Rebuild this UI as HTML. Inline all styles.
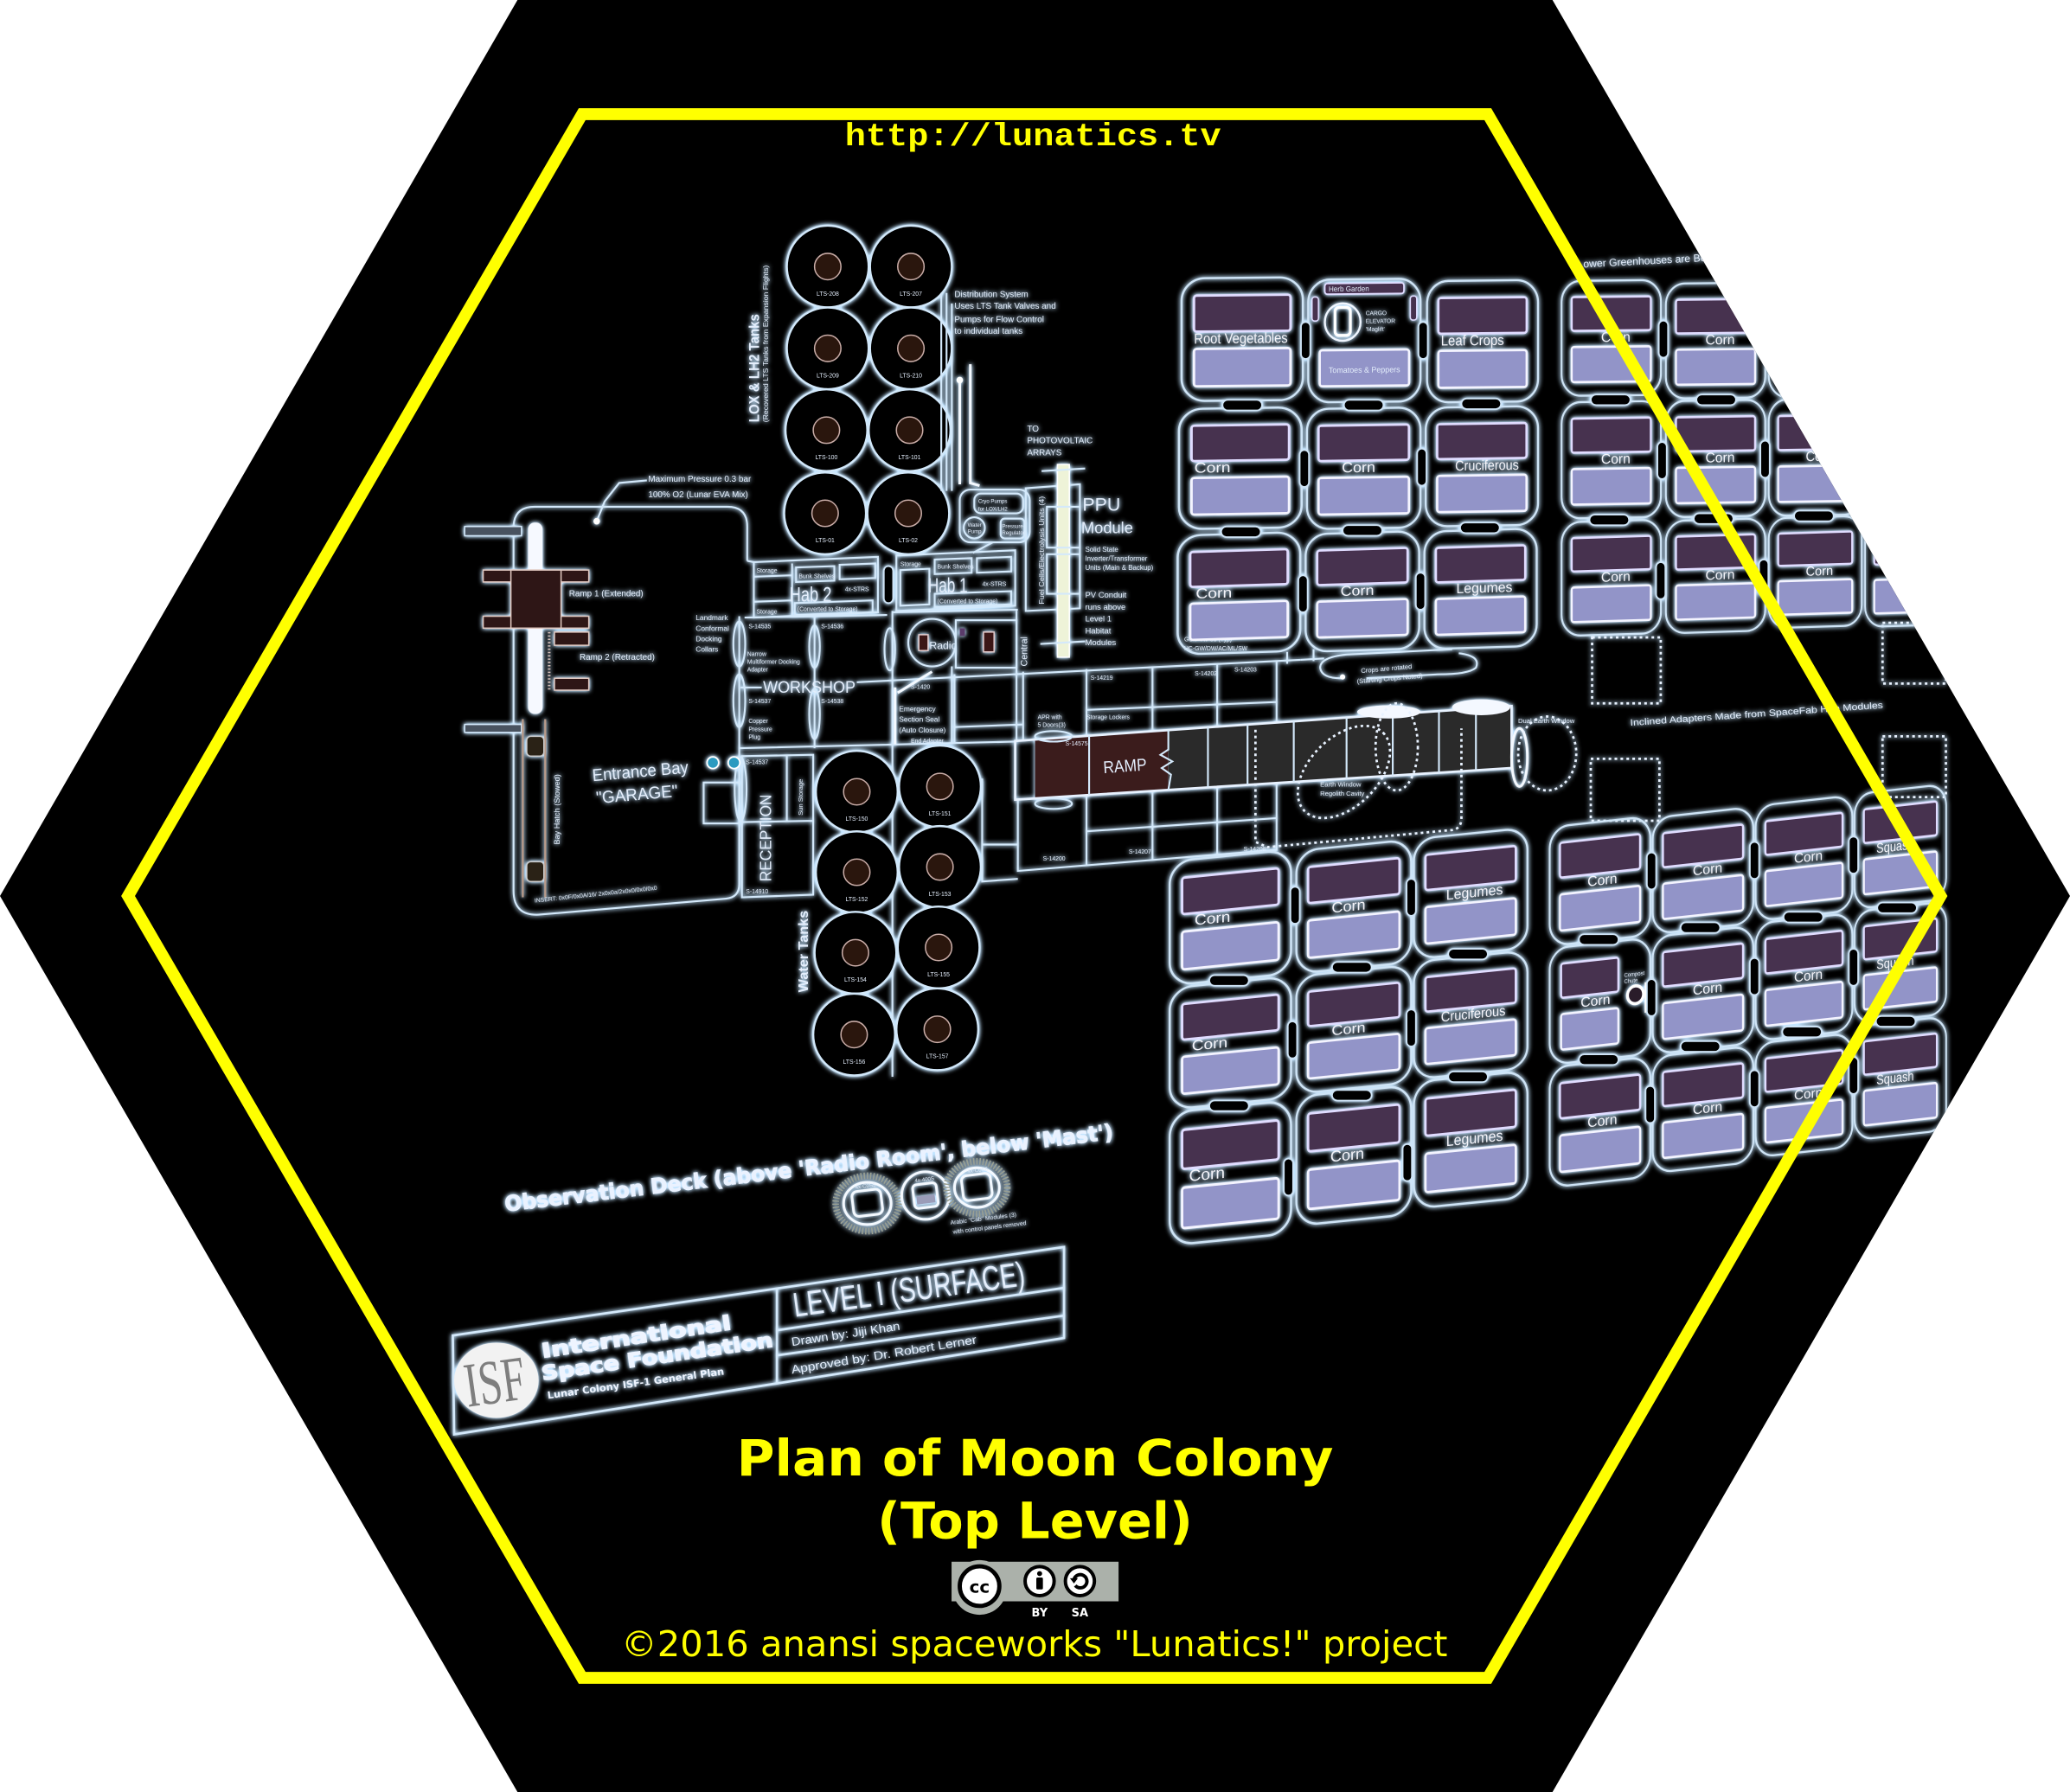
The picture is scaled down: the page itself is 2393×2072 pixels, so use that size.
<!DOCTYPE html>
<html><head><meta charset="utf-8"><title>Plan of Moon Colony</title>
<style>
html,body{margin:0;padding:0;background:#fff;width:2393px;height:2072px;overflow:hidden}
svg{display:block}
.s{fill:none;stroke:#d4e9fb;stroke-width:1.4}
.w{fill:none;stroke:#f4f9ff;stroke-width:2}
.d{fill:none;stroke:#e8f2ff;stroke-width:1.8;stroke-dasharray:2 2.5}
.t{fill:#e4eefc;font-family:"Liberation Sans",sans-serif}
.n{fill:#f4f4fa;font-family:"Liberation Sans Narrow","Liberation Sans",sans-serif;font-size:11px}
</style></head><body>
<svg width="2393" height="2072" viewBox="0 0 1568 1358" preserveAspectRatio="none" xmlns="http://www.w3.org/2000/svg">
<defs>
 <clipPath id="hc"><polygon points="0,679 392,0 1176,0 1568,679 1176,1358 392,1358"/></clipPath>
 <filter id="glow" filterUnits="userSpaceOnUse" x="0" y="0" width="1568" height="1358">
  <feGaussianBlur in="SourceGraphic" stdDeviation="1.8" result="b"/>
  <feColorMatrix in="b" type="matrix" values="0 0 0 0 0.55  0 0 0 0 0.78  0 0 0 0 1  0 0 0 1.6 0" result="c"/>
  <feMerge><feMergeNode in="c"/><feMergeNode in="SourceGraphic"/></feMerge>
 </filter>
 <g id="m">
  <rect x="1" y="1" width="88" height="92" rx="17" fill="none" stroke="#cfe4f6" stroke-width="1.6"/>
  <rect x="10" y="14" width="70" height="27" rx="2" fill="#46324f" stroke="#e0dcff" stroke-width="1.8"/>
  <rect x="10" y="54" width="70" height="28" rx="2" fill="#9294c8" stroke="#f4f4ff" stroke-width="1.8"/>
 </g>
 <g id="mc">
  <rect x="1" y="1" width="88" height="92" rx="17" fill="none" stroke="#cfe4f6" stroke-width="1.6"/>
  <rect x="11" y="14" width="50" height="27" rx="2" fill="#46324f" stroke="#e0dcff" stroke-width="1.8"/>
  <rect x="11" y="54" width="50" height="28" rx="2" fill="#9294c8" stroke="#f4f4ff" stroke-width="1.8"/>
  <circle cx="76" cy="45" r="7" fill="#2a1a2a" stroke="#fff" stroke-width="2.5"/>
  <rect x="84" y="36" width="3" height="24" fill="#fff"/>
 </g>
 <g id="mh">
  <rect x="1" y="1" width="88" height="92" rx="17" fill="none" stroke="#cfe4f6" stroke-width="1.6"/>
  <rect x="14" y="4" width="62" height="8" rx="2" fill="#46324f" stroke="#e0dcff" stroke-width="1.2"/>
  <rect x="4" y="14" width="5" height="18" rx="2" fill="#46324f" stroke="#e0dcff" stroke-width="1"/>
  <rect x="81" y="14" width="5" height="18" rx="2" fill="#46324f" stroke="#e0dcff" stroke-width="1"/>
  <circle cx="28" cy="33" r="14" fill="none" stroke="#f0f6ff" stroke-width="1.6"/>
  <rect x="22" y="22" width="12" height="21" rx="3" fill="none" stroke="#fff" stroke-width="2.2"/>
  <rect x="10" y="54" width="70" height="27" rx="2" fill="#9294c8" stroke="#f4f4ff" stroke-width="1.8"/>
 </g>
 <rect id="ph" x="-15" y="-4" width="30" height="8" rx="4" fill="#000" stroke="#cfe4f6" stroke-width="1.2"/>
 <rect id="pv" x="-3.5" y="-14" width="7" height="28" rx="3.5" fill="#000" stroke="#cfe4f6" stroke-width="1.2"/>
 <g id="tk"><circle r="31" fill="#000" stroke="#d2e8fa" stroke-width="1.6"/><circle r="10" fill="#2c1210" stroke="#c8aca6" stroke-width="1"/></g>
</defs>

<polygon points="0,679 392,0 1176,0 1568,679 1176,1358 392,1358" fill="#000"/>

<g clip-path="url(#hc)">
<g filter="url(#glow)">

<!-- LOX tanks -->
<use href="#tk" x="627" y="202"/><use href="#tk" x="690" y="202"/>
<use href="#tk" x="627" y="264"/><use href="#tk" x="690" y="264"/>
<use href="#tk" x="626" y="326"/><use href="#tk" x="689" y="326"/>
<use href="#tk" x="625" y="389"/><use href="#tk" x="688" y="389"/>
<g class="t" font-size="4.5" text-anchor="middle">
<text x="627" y="224">LTS-208</text><text x="690" y="224">LTS-207</text>
<text x="627" y="286">LTS-209</text><text x="690" y="286">LTS-210</text>
<text x="626" y="348">LTS-100</text><text x="689" y="348">LTS-101</text>
<text x="625" y="411">LTS-01</text><text x="688" y="411">LTS-02</text>
</g>
<text class="t" transform="translate(575,320) rotate(-90)" font-size="11" font-weight="bold" textLength="82" lengthAdjust="spacingAndGlyphs">LOX &amp; LH2 Tanks</text>
<text class="t" transform="translate(582,320) rotate(-90)" font-size="5.5" textLength="119" lengthAdjust="spacingAndGlyphs">(Recovered LTS Tanks from Expansion Flights)</text>
<path class="s" d="M713,222 L713,372 M717,222 L717,372 M721,230 L721,372" stroke-width="1"/>
<path class="w" d="M727,288 L727,367 M735,276 L735,366 L742,368"/>
<circle cx="727" cy="288" r="2.5" fill="#fff"/>
<g class="t" font-size="6.5">
<text x="723" y="225">Distribution System</text>
<text x="723" y="234">Uses LTS Tank Valves and</text>
<text x="723" y="244">Pumps for Flow Control</text>
<text x="723" y="253">to individual tanks</text>
<text x="778" y="327">TO</text>
<text x="778" y="336">PHOTOVOLTAIC</text>
<text x="778" y="345">ARRAYS</text>
</g>

<!-- Cryo / fuel / PPU -->
<rect class="s" x="727" y="371" width="53" height="40" rx="8"/>
<rect class="s" x="738" y="374" width="37" height="15" rx="5" stroke-width="1"/>
<circle class="s" cx="738" cy="400" r="8" stroke-width="1"/>
<rect class="s" x="758" y="393" width="18" height="15" rx="3" stroke-width="1"/>
<g class="t" font-size="4"><text x="741" y="381">Cryo Pumps</text><text x="741" y="387">for LOX/LH2</text><text x="733" y="399">Water</text><text x="733" y="404">Pump</text><text x="759" y="400">Pressure</text><text x="759" y="405">Regulator</text></g>
<polygon class="s" points="777,370 818,367 818,461 777,463"/>
<text class="t" transform="translate(791,458) rotate(-90)" font-size="5.5" textLength="82" lengthAdjust="spacingAndGlyphs">Fuel Cells/Electrolysis Units (4)</text>
<rect x="801" y="352" width="9" height="146" fill="#eef3d8" stroke="#fff" stroke-width="1"/>
<path class="s" d="M789,357 L822,355 M788,488 L822,486 M793,384 L818,384 L818,415 L793,415 Z M793,420 L818,420 L818,450 L793,450 Z" stroke-width="1"/>
<text class="t" x="820" y="387" font-size="14">PPU</text>
<text class="t" x="819" y="404" font-size="12">Module</text>
<g class="t" font-size="5.2">
<text x="822" y="418">Solid State</text><text x="822" y="425">Inverter/Transformer</text><text x="822" y="432">Units (Main &amp; Backup)</text>
</g>
<g class="t" font-size="6.2">
<text x="822" y="453">PV Conduit</text><text x="822" y="462">runs above</text><text x="822" y="471">Level 1</text><text x="822" y="480">Habitat</text><text x="822" y="489">Modules</text>
</g>

<!-- Hab rooms -->
<polygon class="s" points="571,426 665,422 665,464 571,468" stroke-width="1.6"/>
<path class="s" d="M600,427 L600,467 M571,437 L600,436 M571,456 L600,455 M603,430 L632,429 L632,440 L603,441 Z M636,428 L663,427 L663,438 L636,439 Z M602,457 L661,455 L661,464 L602,466 Z" stroke-width="1"/>
<text class="t" x="598" y="456" font-size="16" textLength="32" lengthAdjust="spacingAndGlyphs">Hab 2</text>
<g class="t" font-size="4.5"><text x="573" y="434">Storage</text><text x="605" y="438">Bunk Shelves</text><text x="604" y="463">(Converted to Storage)</text><text x="573" y="465">Storage</text><text x="640" y="448">4x-STRS</text></g>
<polygon class="s" points="679,421 769,417 769,459 679,463" stroke-width="1.6"/>
<path class="s" d="M708,424 L736,423 L736,434 L708,435 Z M740,423 L766,422 L766,433 L740,434 Z M708,450 L766,448 L766,458 L708,460 Z M682,432 L704,431 L704,458 L682,459 Z" stroke-width="1"/>
<text class="t" x="703" y="449" font-size="16" textLength="30" lengthAdjust="spacingAndGlyphs">Hab 1</text>
<g class="t" font-size="4.5"><text x="682" y="429">Storage</text><text x="710" y="431">Bunk Shelves</text><text x="710" y="457">(Converted to Storage)</text><text x="744" y="444">4x-STRS</text></g>
<use href="#pv" x="673" y="443"/>
<path class="s" d="M752,411 L737,419 M566,425 L571,426"/>

<!-- Radio / central -->
<circle class="s" cx="706" cy="487" r="18" stroke-width="1.6"/>
<rect x="696" y="481" width="7" height="12" fill="#3a1418" stroke="#e0c8c8" stroke-width="1"/>
<text class="t" x="704" y="492" font-size="8">Radio</text>
<rect class="s" x="724" y="470" width="46" height="36"/>
<rect x="745" y="479" width="8" height="15" fill="#3a1418" stroke="#e0c8c8" stroke-width="1"/>
<rect x="727" y="476" width="4" height="6" fill="#5a3a6a"/>
<text class="t" transform="translate(778,505) rotate(-90)" font-size="7">Central</text>

<!-- Garage -->
<path class="s" d="M566,425 L566,399 Q566,384 551,384 L405,384 Q389,384 389,400 L389,675 Q389,695 410,693 L550,681 Q560,680 560,670 L560,467" stroke-width="1.8"/>
<rect x="352" y="399" width="43" height="7" fill="#4a5260" stroke="#d4e9fb" stroke-width="1"/>
<rect x="352" y="549" width="43" height="6" fill="#4a5260" stroke="#d4e9fb" stroke-width="1"/>
<rect x="400" y="396" width="11" height="145" rx="5" fill="#f6f9ff"/>
<path d="M396,545 L396,680 M413,545 L413,680" stroke="#b89a88" stroke-width="1.5"/>
<rect x="399" y="558" width="13" height="15" rx="3" fill="#2a2418" stroke="#ccc" stroke-width="1"/>
<rect x="399" y="653" width="13" height="15" rx="3" fill="#2a2418" stroke="#ccc" stroke-width="1"/>
<g fill="#2e1212" stroke="#e0c8c0" stroke-width="1">
<rect x="366" y="432" width="80" height="9"/><rect x="366" y="467" width="80" height="9"/>
<rect x="420" y="479" width="26" height="10"/><rect x="420" y="514" width="26" height="9"/>
<rect x="387" y="432" width="38" height="44"/>
</g>
<path d="M416,479 L416,523" stroke="#d8c0b8" stroke-width="2" stroke-dasharray="1 1.5"/>
<g class="t" font-size="6.5">
<text x="431" y="452">Ramp 1 (Extended)</text>
<text x="439" y="500">Ramp 2 (Retracted)</text>
<text x="491" y="365">Maximum Pressure 0.3 bar</text>
<text x="491" y="377">100% O2 (Lunar EVA Mix)</text>
</g>
<path class="s" d="M452,395 L458,380 L469,366 L490,364"/>
<circle cx="452" cy="395" r="2.5" fill="#fff"/>
<text class="t" transform="rotate(-5 449 592)" x="449" y="592" font-size="13" textLength="73" lengthAdjust="spacingAndGlyphs">Entrance Bay</text>
<text class="t" transform="rotate(-5 452 609)" x="452" y="609" font-size="13" textLength="62" lengthAdjust="spacingAndGlyphs">&quot;GARAGE&quot;</text>
<text class="t" transform="translate(424,640) rotate(-90)" font-size="6">Bay Hatch (Stowed)</text>
<text class="t" transform="rotate(-6 405 684)" x="405" y="684" font-size="4.5">INSERT: 0x0F/0x0A/16/ 2x0x0a/2x0x0/0x0/0x0</text>
<g class="t" font-size="5.5"><text x="527" y="470">Landmark</text><text x="527" y="478">Conformal</text><text x="527" y="486">Docking</text><text x="527" y="494">Collars</text></g>

<!-- Workshop / corridor left -->
<path class="s" d="M564,468 L672,466 M676,464 L771,462 M561,521 L577,521 M649,517 L985,500 M560,567 L769,562 M617,467 L617,567 M676,463 L676,816 M721,505 L721,564 M770,462 L770,562 M723,511 L723,563 M723,551 L775,549"/>
<text class="t" x="578" y="525" font-size="12.5" textLength="70" lengthAdjust="spacingAndGlyphs">WORKSHOP</text>
<g class="s" stroke-width="1.2">
<ellipse cx="560" cy="488" rx="4.5" ry="17"/><ellipse cx="560" cy="531" rx="4.5" ry="20"/><ellipse cx="561" cy="598" rx="4.5" ry="24"/>
<ellipse cx="617" cy="490" rx="4" ry="16"/><ellipse cx="617" cy="541" rx="4" ry="19"/><ellipse cx="674" cy="492" rx="4" ry="16"/>
</g>
<path class="w" d="M680,525 L706,509 M678,521 L678,564" stroke-width="2.2"/>
<g class="t" font-size="4.5">
<text x="567" y="476">S-14535</text><text x="622" y="476">S-14536</text>
<text x="566" y="497">Narrow</text><text x="566" y="503">Multiformer Docking</text><text x="566" y="509">Adapter</text>
<text x="567" y="533">S-14537</text><text x="622" y="533">S-14538</text>
<text x="567" y="548">Copper</text><text x="567" y="554">Pressure</text><text x="567" y="560">Plug</text>
<text x="565" y="579">S-14537</text><text x="565" y="677">S-14910</text>
<text x="690" y="522">S-1420</text><text x="690" y="563">End Adapter</text>
</g>
<g class="t" font-size="5.5"><text x="681" y="539">Emergency</text><text x="681" y="547">Section Seal</text><text x="681" y="555">(Auto Closure)</text></g>

<!-- Reception -->
<path class="s" d="M562,573 L616,572 L616,678 L562,680 Z M596,573 L596,623 M562,623 L616,622"/>
<text class="t" transform="translate(584,668) rotate(-90)" font-size="12" textLength="66" lengthAdjust="spacingAndGlyphs">RECEPTION</text>
<text class="t" transform="translate(608,618) rotate(-90)" font-size="5">Sun Storage</text>
<rect class="s" x="533" y="593" width="27" height="31"/>
<circle cx="540" cy="578" r="4.4" fill="#2a9ac0" stroke="#fff" stroke-width="1.2"/>
<circle cx="556" cy="578" r="4.4" fill="#2a9ac0" stroke="#fff" stroke-width="1.2"/>

<!-- Water tanks -->
<use href="#tk" x="649" y="600"/><use href="#tk" x="712" y="596"/>
<use href="#tk" x="649" y="661"/><use href="#tk" x="712" y="657"/>
<use href="#tk" x="648" y="722"/><use href="#tk" x="711" y="718"/>
<use href="#tk" x="647" y="784"/><use href="#tk" x="710" y="780"/>
<g class="t" font-size="4.5" text-anchor="middle">
<text x="649" y="622">LTS-150</text><text x="712" y="618">LTS-151</text>
<text x="649" y="683">LTS-152</text><text x="712" y="679">LTS-153</text>
<text x="648" y="744">LTS-154</text><text x="711" y="740">LTS-155</text>
<text x="647" y="806">LTS-156</text><text x="710" y="802">LTS-157</text>
</g>
<text class="t" transform="translate(612,752) rotate(-90)" font-size="10" font-weight="bold" textLength="62" lengthAdjust="spacingAndGlyphs">Water Tanks</text>

<!-- Central corridor -->
<path class="s" d="M775,509 L775,561 M823,507 L823,558 M873,505 L873,554 M922,503 L922,551 M967,501 L967,548 M823,538 L967,532
M771,606 L771,660 L967,644 L967,593 M823,603 L823,656 M873,599 L873,652 M922,596 L922,648 M823,630 L967,620 M744,640 L771,640 M744,590 L744,668 L771,666"/>
<polygon points="784,560.4 885,553.3 885,598.6 784,605" fill="#3a1a1e"/>
<polygon points="885,553.3 1145,535 1145,582 885,598.6" fill="#2c2c2c"/>
<polygon points="769,561.5 1145,535 1145,582 769,606" fill="none" stroke="#e8f2ff" stroke-width="1.8"/>
<path class="s" d="M825,557.6 L825,602.4 M915,551.2 L915,596.7 M945,549.1 L945,594.8 M980,546.6 L980,592.5 M1020,543.8 L1020,590 M1055,541.3 L1055,587.8 M1090,538.9 L1090,585.5 M1118,536.9 L1118,583.7 M885,553.3 L885,568 L879,572 L888,577 L880,582 L887,587 L885,598.6"/>
<text class="t" transform="rotate(-4 836 586)" x="836" y="586" font-size="13" fill="#ddd" textLength="33" lengthAdjust="spacingAndGlyphs">RAMP</text>
<ellipse class="s" cx="798" cy="558" rx="14" ry="4"/><ellipse class="s" cx="798" cy="609" rx="14" ry="4"/>
<g class="t" font-size="4.5"><text x="786" y="545">APR with</text><text x="786" y="551">5 Doors(3)</text><text x="823" y="545">Storage Lockers</text><text x="826" y="515">S-14219</text><text x="905" y="512">S-14202</text><text x="935" y="509">S-14203</text><text x="807" y="565">S-14575</text><text x="790" y="652">S-14200</text><text x="855" y="647">S-14207</text><text x="942" y="645">S-14208</text></g>
<ellipse cx="1052" cy="539.5" rx="24" ry="5" fill="#f4f8ff"/>
<ellipse cx="1122" cy="536" rx="22" ry="6" fill="#f4f8ff"/>
<ellipse class="w" cx="1151" cy="574" rx="6" ry="22"/>
<ellipse class="d" cx="1172" cy="571" rx="22" ry="28"/>
<ellipse class="d" cx="1018" cy="585" rx="42" ry="26" transform="rotate(-45 1018 585)"/>
<ellipse class="d" cx="1058" cy="566" rx="16" ry="33"/>
<path class="d" d="M951,553 L951,638 L960,642 L1100,629 Q1107,628 1107,620 L1107,552"/>
<g class="t" font-size="5"><text x="1000" y="596">Earth Window</text><text x="1000" y="603">Regolith Cavity</text><text x="1150" y="548">Dual Earth Window</text></g>
<path class="s" d="M985,500 L1003,499 M975,494 L975,503 M995,492 L995,501"/>
<path class="s" d="M1105,495 Q1122,497 1118,506 Q1112,511 1090,511 L1035,514 M1020,496 Q1000,498 1000,506 Q1001,514 1016,514 M1020,496 L1100,492"/>
<circle cx="1017" cy="513" r="2" fill="#fff"/>
<g class="t" font-size="5"><text transform="rotate(-5 1031 510)" x="1031" y="510">Crops are rotated</text><text transform="rotate(-5 1028 518)" x="1028" y="518">(Starting Crops Noted)</text></g>
<g class="t" font-size="4.5"><text x="897" y="486">GC-P-AV-03 (Typ)</text><text x="897" y="493">HC-GW/DW/AC/ML/SW</text></g>

<!-- Dashed adapter boxes -->
<rect class="d" x="1206" y="483" width="52" height="50" stroke-width="1.3"/>
<rect class="d" x="1426" y="472" width="48" height="46" stroke-width="1.3"/>
<rect class="d" x="1205" y="575" width="52" height="47" stroke-width="1.3"/>
<rect class="d" x="1426" y="558" width="48" height="46" stroke-width="1.3"/>
<text class="t" transform="rotate(-4 1235 550)" x="1235" y="550" font-size="7" textLength="192" lengthAdjust="spacingAndGlyphs">Inclined Adapters Made from SpaceFab Hab Modules</text>
<text class="t" transform="rotate(-3 1195 203)" x="1195" y="203" font-size="8">Lower Greenhouses are Below (Level 2)</text>

<!-- Greenhouses top-left -->
<g transform="matrix(1.0444,-0.0104,0,1.0106,894,210)"><use href="#m"/><text class="n" x="10" y="50" textLength="68" lengthAdjust="spacingAndGlyphs">Root Vegetables</text></g>
<g transform="matrix(0.9667,-0.0097,0,1.0106,990,211)"><use href="#mh"/>
 <text class="t" x="17" y="10" font-size="5.5">Herb Garden</text>
 <text class="t" x="46" y="28" font-size="4.5">CARGO</text><text class="t" x="46" y="34" font-size="4.5">ELEVATOR</text><text class="t" x="46" y="40" font-size="4.5">'Maglift'</text>
 <text class="t" x="17" y="71" font-size="6" textLength="56" lengthAdjust="spacingAndGlyphs">Tomatoes &amp; Peppers</text></g>
<g transform="matrix(0.9556,-0.0096,0,1,1080,212)"><use href="#m"/><text class="n" x="12" y="50" textLength="50" lengthAdjust="spacingAndGlyphs">Leaf Crops</text></g>
<g transform="matrix(1.0556,-0.0158,0,0.9894,892,309)"><use href="#m"/><text class="n" x="12" y="50" textLength="26" lengthAdjust="spacingAndGlyphs">Corn</text></g>
<g transform="matrix(0.9778,-0.0147,0,0.9894,989,309)"><use href="#m"/><text class="n" x="28" y="50" textLength="26" lengthAdjust="spacingAndGlyphs">Corn</text></g>
<g transform="matrix(0.9667,-0.0145,0,0.9787,1079,308)"><use href="#m"/><text class="n" x="24" y="50" textLength="50" lengthAdjust="spacingAndGlyphs">Cruciferous</text></g>
<g transform="matrix(1.0556,-0.0317,0,0.9787,891,405)"><use href="#m"/><text class="n" x="14" y="50" textLength="26" lengthAdjust="spacingAndGlyphs">Corn</text></g>
<g transform="matrix(0.9778,-0.0293,0,0.9681,988,404)"><use href="#m"/><text class="n" x="28" y="50" textLength="26" lengthAdjust="spacingAndGlyphs">Corn</text></g>
<g transform="matrix(0.9667,-0.029,0,0.9681,1078,402)"><use href="#m"/><text class="n" x="26" y="50" textLength="44" lengthAdjust="spacingAndGlyphs">Legumes</text></g>

<!-- Greenhouses top-right -->
<g transform="matrix(0.8556,-0.0086,0,0.9468,1182,212)"><use href="#m"/><text class="n" x="36" y="50" textLength="26" lengthAdjust="spacingAndGlyphs">Corn</text></g>
<g transform="matrix(0.8556,-0.0086,0,0.9468,1261,214)"><use href="#m"/><text class="n" x="36" y="50" textLength="26" lengthAdjust="spacingAndGlyphs">Corn</text></g>
<g transform="matrix(0.8,-0.008,0,0.9468,1339,213)"><use href="#m"/><text class="n" x="36" y="50" textLength="26" lengthAdjust="spacingAndGlyphs">Corn</text></g>
<g transform="matrix(0.7778,-0.0078,0,0.9468,1412,213)"><use href="#m"/><text class="n" x="36" y="50" textLength="26" lengthAdjust="spacingAndGlyphs">Corn</text></g>
<g transform="matrix(0.8556,-0.0128,0,0.9574,1182,304)"><use href="#m"/><text class="n" x="36" y="50" textLength="26" lengthAdjust="spacingAndGlyphs">Corn</text></g>
<g transform="matrix(0.8556,-0.0128,0,0.9574,1261,303)"><use href="#m"/><text class="n" x="36" y="50" textLength="26" lengthAdjust="spacingAndGlyphs">Corn</text></g>
<g transform="matrix(0.8,-0.012,0,0.9574,1339,302)"><use href="#m"/><text class="n" x="36" y="50" textLength="26" lengthAdjust="spacingAndGlyphs">Corn</text></g>
<g transform="matrix(0.7778,-0.0117,0,0.9574,1412,302)"><use href="#m"/><text class="n" x="36" y="50" textLength="26" lengthAdjust="spacingAndGlyphs">Corn</text></g>
<g transform="matrix(0.8556,-0.0257,0,0.9362,1182,395)"><use href="#m"/><text class="n" x="36" y="50" textLength="26" lengthAdjust="spacingAndGlyphs">Corn</text></g>
<g transform="matrix(0.8556,-0.0257,0,0.9255,1261,394)"><use href="#m"/><text class="n" x="36" y="50" textLength="26" lengthAdjust="spacingAndGlyphs">Corn</text></g>
<g transform="matrix(0.8,-0.024,0,0.9043,1339,392)"><use href="#m"/><text class="n" x="36" y="50" textLength="26" lengthAdjust="spacingAndGlyphs">Corn</text></g>
<g transform="matrix(0.7778,-0.0233,0,0.9043,1412,391)"><use href="#m"/><text class="n" x="36" y="50" textLength="26" lengthAdjust="spacingAndGlyphs">Corn</text></g>

<!-- Greenhouses bottom-left -->
<g transform="matrix(1.0444,-0.1044,0,1.0213,885,652)"><use href="#m"/><text class="n" x="19" y="50" textLength="26" lengthAdjust="spacingAndGlyphs">Corn</text></g>
<g transform="matrix(0.9889,-0.0989,0,1.0106,981,644)"><use href="#m"/><text class="n" x="28" y="50" textLength="26" lengthAdjust="spacingAndGlyphs">Corn</text></g>
<g transform="matrix(0.9778,-0.0978,0,0.9894,1070,635)"><use href="#m"/><text class="n" x="26" y="50" textLength="44" lengthAdjust="spacingAndGlyphs">Legumes</text></g>
<g transform="matrix(1.0444,-0.1044,0,1.0,885,748)"><use href="#m"/><text class="n" x="17" y="50" textLength="26" lengthAdjust="spacingAndGlyphs">Corn</text></g>
<g transform="matrix(0.9889,-0.0989,0,0.9681,981,739)"><use href="#m"/><text class="n" x="28" y="50" textLength="26" lengthAdjust="spacingAndGlyphs">Corn</text></g>
<g transform="matrix(0.9778,-0.0978,0,0.9681,1070,728)"><use href="#m"/><text class="n" x="22" y="50" textLength="50" lengthAdjust="spacingAndGlyphs">Cruciferous</text></g>
<g transform="matrix(1.0444,-0.1044,0,1.0957,885,842)"><use href="#m"/><text class="n" x="15" y="50" textLength="26" lengthAdjust="spacingAndGlyphs">Corn</text></g>
<g transform="matrix(0.9889,-0.0989,0,1.0638,981,830)"><use href="#m"/><text class="n" x="27" y="50" textLength="26" lengthAdjust="spacingAndGlyphs">Corn</text></g>
<g transform="matrix(0.9778,-0.0978,0,1.0426,1070,819)"><use href="#m"/><text class="n" x="26" y="50" textLength="44" lengthAdjust="spacingAndGlyphs">Legumes</text></g>

<!-- Greenhouses bottom-right -->
<g transform="matrix(0.8667,-0.0953,0,0.9787,1173,626)"><use href="#m"/><text class="n" x="34" y="50" textLength="26" lengthAdjust="spacingAndGlyphs">Corn</text></g>
<g transform="matrix(0.8667,-0.0953,0,0.9574,1251,619)"><use href="#m"/><text class="n" x="36" y="50" textLength="26" lengthAdjust="spacingAndGlyphs">Corn</text></g>
<g transform="matrix(0.8333,-0.0917,0,0.9468,1329,610)"><use href="#m"/><text class="n" x="36" y="50" textLength="26" lengthAdjust="spacingAndGlyphs">Corn</text></g>
<g transform="matrix(0.7889,-0.0868,0,0.9468,1404,601)"><use href="#m"/><text class="n" x="22" y="50" textLength="36" lengthAdjust="spacingAndGlyphs">Squash</text></g>
<g transform="matrix(0.8667,-0.0953,0,0.9574,1173,718)"><use href="#mc"/><text class="n" x="28" y="50" textLength="26" lengthAdjust="spacingAndGlyphs">Corn</text><text class="t" x="66" y="30" font-size="4.5">Compost</text><text class="t" x="66" y="35" font-size="4.5">Chute</text></g>
<g transform="matrix(0.8667,-0.0953,0,0.9681,1251,709)"><use href="#m"/><text class="n" x="36" y="50" textLength="26" lengthAdjust="spacingAndGlyphs">Corn</text></g>
<g transform="matrix(0.8333,-0.0917,0,0.9681,1329,699)"><use href="#m"/><text class="n" x="36" y="50" textLength="26" lengthAdjust="spacingAndGlyphs">Corn</text></g>
<g transform="matrix(0.7889,-0.0868,0,0.9255,1404,690)"><use href="#m"/><text class="n" x="22" y="50" textLength="36" lengthAdjust="spacingAndGlyphs">Squash</text></g>
<g transform="matrix(0.8667,-0.0953,0,0.9894,1173,808)"><use href="#m"/><text class="n" x="34" y="50" textLength="26" lengthAdjust="spacingAndGlyphs">Corn</text></g>
<g transform="matrix(0.8667,-0.0953,0,0.9574,1251,800)"><use href="#m"/><text class="n" x="36" y="50" textLength="26" lengthAdjust="spacingAndGlyphs">Corn</text></g>
<g transform="matrix(0.8333,-0.0917,0,0.9362,1329,790)"><use href="#m"/><text class="n" x="36" y="50" textLength="26" lengthAdjust="spacingAndGlyphs">Corn</text></g>
<g transform="matrix(0.7889,-0.0868,0,0.9362,1404,777)"><use href="#m"/><text class="n" x="22" y="50" textLength="36" lengthAdjust="spacingAndGlyphs">Squash</text></g>

<!-- MCD2 pills -->
<use href="#ph" x="941" y="307"/><use href="#ph" x="1033" y="307"/><use href="#ph" x="1122" y="306"/>
<use href="#ph" x="940" y="403"/><use href="#ph" x="1032" y="402"/><use href="#ph" x="1121" y="400"/>
<use href="#pv" x="989" y="258"/><use href="#pv" x="988" y="355"/><use href="#pv" x="987" y="450"/>
<use href="#pv" x="1078" y="258"/><use href="#pv" x="1077" y="354"/><use href="#pv" x="1076" y="448"/>
<use href="#ph" x="1220" y="303"/><use href="#ph" x="1300" y="303"/><use href="#ph" x="1375" y="301"/>
<use href="#ph" x="1219" y="394"/><use href="#ph" x="1298" y="393"/><use href="#ph" x="1374" y="391"/>
<use href="#pv" x="1260" y="257"/><use href="#pv" x="1259" y="349"/><use href="#pv" x="1258" y="440"/>
<use href="#pv" x="1338" y="257"/><use href="#pv" x="1337" y="348"/><use href="#pv" x="1336" y="438"/>
<use href="#ph" x="931" y="743"/><use href="#ph" x="1024" y="733"/><use href="#ph" x="1112" y="723"/>
<use href="#ph" x="931" y="838"/><use href="#ph" x="1024" y="830"/><use href="#ph" x="1112" y="816"/>
<use href="#pv" x="981" y="686"/><use href="#pv" x="979" y="788"/><use href="#pv" x="976" y="892"/>
<use href="#pv" x="1069" y="680"/><use href="#pv" x="1069" y="779"/><use href="#pv" x="1066" y="881"/>
<use href="#ph" x="1211" y="712"/><use href="#ph" x="1288" y="703"/><use href="#ph" x="1366" y="695"/><use href="#ph" x="1437" y="688"/>
<use href="#ph" x="1211" y="803"/><use href="#ph" x="1288" y="793"/><use href="#ph" x="1365" y="782"/><use href="#ph" x="1436" y="774"/>
<use href="#pv" x="1251" y="660"/><use href="#pv" x="1251" y="756"/><use href="#pv" x="1250" y="837"/>
<use href="#pv" x="1329" y="652"/><use href="#pv" x="1329" y="740"/><use href="#pv" x="1329" y="825"/>
<use href="#pv" x="1404" y="648"/><use href="#pv" x="1404" y="733"/><use href="#pv" x="1404" y="815"/>

<!-- Observation deck -->
<text transform="rotate(-6.8 383 918)" x="383" y="918" font-family="DejaVu Sans,sans-serif" font-weight="bold" font-size="16" fill="#eaf2ff" stroke="#eaf2ff" stroke-width="0.6" textLength="464" lengthAdjust="spacingAndGlyphs">Observation Deck (above 'Radio Room', below 'Mast')</text>
<ellipse cx="657" cy="912" rx="24" ry="21" fill="none" stroke="#9aa092" stroke-width="5" stroke-dasharray="1 1.4"/>
<ellipse class="w" cx="657" cy="912" rx="18" ry="16"/>
<rect class="w" x="646" y="902" width="22" height="19" rx="4" transform="rotate(-7 657 912)"/>
<circle class="w" cx="701" cy="906" r="18" stroke-width="2.4"/>
<rect class="w" x="692" y="897" width="18" height="18" rx="3" transform="rotate(-7 701 906)" stroke-width="1.4"/>
<rect x="694" y="906" width="14" height="6" fill="#9a9cb8" transform="rotate(-7 701 906)"/>
<ellipse cx="740" cy="900" rx="23" ry="20" fill="none" stroke="#9aa092" stroke-width="5" stroke-dasharray="1 1.4"/>
<ellipse class="w" cx="740" cy="900" rx="17" ry="15"/>
<rect class="w" x="729" y="890" width="22" height="19" rx="4" transform="rotate(-7 740 900)"/>
<g class="t" font-size="4"><text transform="rotate(-7 648 901)" x="648" y="901">4x-C0S5</text><text transform="rotate(-7 693 896)" x="693" y="896">4x-400S</text><text transform="rotate(-7 733 889)" x="733" y="889">4x-C0S6</text></g>
<g class="t" font-size="4.5"><text transform="rotate(-7 720 928)" x="720" y="928">Arabic "Cab" Modules (3)</text><text transform="rotate(-7 722 935)" x="722" y="935">with control panels removed</text></g>

<!-- Title block -->
<polygon points="343,1012 806,945 806,1014 344,1087" fill="none" stroke="#d4e9fb" stroke-width="1.8"/>
<path d="M588.5,976.5 L588.5,1049 M589,1008 L806,976 M589,1027 L806,997" fill="none" stroke="#d4e9fb" stroke-width="1.8"/>
<ellipse cx="376" cy="1046" rx="32" ry="28.5" fill="#f2f2f2"/>
<text transform="rotate(-8 377 1063)" x="377" y="1063" text-anchor="middle" font-family="Liberation Serif,serif" font-size="48" fill="#7e7e7e" textLength="46" lengthAdjust="spacingAndGlyphs">ISF</text>
<text transform="rotate(-8.6 411 1029)" x="411" y="1029" font-family="DejaVu Sans,sans-serif" font-weight="bold" font-size="15" fill="#eef4ff" stroke="#eef4ff" stroke-width="0.8" textLength="145" lengthAdjust="spacingAndGlyphs">International</text>
<text transform="rotate(-8.3 411 1046)" x="411" y="1046" font-family="DejaVu Sans,sans-serif" font-weight="bold" font-size="15" fill="#eef4ff" stroke="#eef4ff" stroke-width="0.8" textLength="177" lengthAdjust="spacingAndGlyphs">Space Foundation</text>
<text transform="rotate(-7.8 415 1060)" x="415" y="1060" font-family="DejaVu Sans,sans-serif" font-weight="bold" font-size="7.5" fill="#eef4ff" textLength="135" lengthAdjust="spacingAndGlyphs">Lunar Colony ISF-1 General Plan</text>
<text class="t" transform="rotate(-7.8 602 998)" x="602" y="998" font-size="26" textLength="177" lengthAdjust="spacingAndGlyphs">LEVEL I (SURFACE)</text>
<text class="t" transform="rotate(-8.5 600 1020)" x="600" y="1020" font-size="9" textLength="83" lengthAdjust="spacingAndGlyphs">Drawn by: Jiji Khan</text>
<text class="t" transform="rotate(-9.3 600 1041)" x="600" y="1041" font-size="9" textLength="142" lengthAdjust="spacingAndGlyphs">Approved by: Dr. Robert Lerner</text>

</g>
</g>

<!-- Yellow hexagon -->
<polygon points="97,679 441,86.5 1127,86.5 1470,679 1127,1271.5 441,1271.5" fill="none" stroke="#ffff00" stroke-width="9" stroke-linejoin="miter"/>

<text x="640" y="110" font-family="Liberation Mono,monospace" font-weight="bold" font-size="24" fill="#ffff00" textLength="285" lengthAdjust="spacingAndGlyphs">http://lunatics.tv</text>

<text x="784" y="1118" text-anchor="middle" font-family="DejaVu Sans,sans-serif" font-weight="bold" font-size="38" fill="#ffff00" textLength="452" lengthAdjust="spacingAndGlyphs">Plan of Moon Colony</text>
<text x="784" y="1165.5" text-anchor="middle" font-family="DejaVu Sans,sans-serif" font-weight="bold" font-size="38" fill="#ffff00" textLength="239" lengthAdjust="spacingAndGlyphs">(Top Level)</text>

<!-- CC BY-SA badge -->
<rect x="720.8" y="1183.5" width="126.5" height="30" fill="#abb1aa"/>
<circle cx="742" cy="1203" r="20.7" fill="#abb1aa"/>
<circle cx="742" cy="1202" r="15" fill="#fff" stroke="#000" stroke-width="3.2"/>
<text x="742" y="1207" text-anchor="middle" font-family="DejaVu Sans,sans-serif" font-weight="bold" font-size="13" fill="#000">cc</text>
<circle cx="787.5" cy="1198.2" r="11" fill="#fff" stroke="#000" stroke-width="2.6"/>
<circle cx="787.5" cy="1192.5" r="1.9" fill="#000"/>
<rect x="785" y="1195.5" width="5" height="9" rx="1" fill="#000"/>
<circle cx="818" cy="1198.2" r="11" fill="#fff" stroke="#000" stroke-width="2.6"/>
<path d="M813.5,1197 A5,5 0 1 1 814.5,1201.5" fill="none" stroke="#000" stroke-width="2.6"/>
<polygon points="810.5,1196 816.5,1196 813.5,1200" fill="#000"/>
<text x="787.5" y="1225" text-anchor="middle" font-family="DejaVu Sans,sans-serif" font-weight="bold" font-size="8.5" fill="#fff">BY</text>
<text x="818" y="1225" text-anchor="middle" font-family="DejaVu Sans,sans-serif" font-weight="bold" font-size="8.5" fill="#fff">SA</text>

<text x="470.5" y="1255" font-family="DejaVu Sans,sans-serif" font-size="27" fill="#ffff00" textLength="626" lengthAdjust="spacingAndGlyphs">©2016 anansi spaceworks "Lunatics!" project</text>
</svg>
</body></html>
